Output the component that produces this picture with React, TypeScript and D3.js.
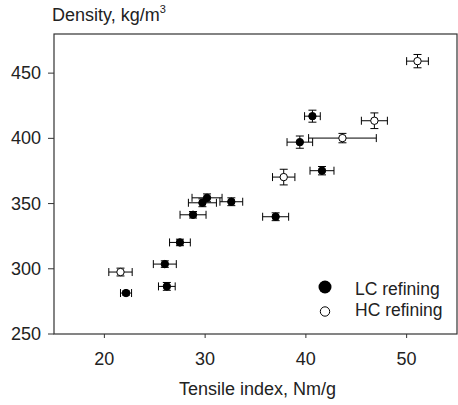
import React from "react";
import * as d3 from "d3";

const lcTensile = [40.65, 39.4, 41.6, 30.19, 29.73, 32.6, 28.8, 37.0, 27.5, 26.0, 26.2, 22.15];
const lcTensileErr = [0.78, 1.27, 1.19, 1.49, 1.39, 1.13, 1.29, 1.29, 1.03, 1.14, 0.83, 0.55];
const lcDensity = [417, 397.1, 375.2, 354.4, 350.6, 351.4, 341.4, 339.9, 320.2, 303.6, 286.5, 281.4];
const lcDensityErr = [4.6, 4.7, 3.2, 3, 3, 3, 2.5, 3, 2.5, 2.5, 3, 1.5];

const hcTensile = [51.08, 46.8, 43.63, 37.8, 21.6];
const hcTensileErr = [1.08, 1.29, 3.36, 1.11, 1.16];
const hcDensity = [459.2, 413.5, 400.2, 370.3, 297.5];
const hcDensityErr = [5.1, 6, 3.6, 6, 3];

const xTicks = [20, 30, 40, 50];
const yTicks = [250, 300, 350, 400, 450];

const W = 458, H = 405;
const L = 54, R = 457, T = 34, B = 334;
const FONT = "Liberation Sans, Arial, sans-serif";

export default function App() {
  const x = d3.scaleLinear().domain([15, 55]).range([L, R]);
  const y = d3.scaleLinear().domain([250, 480]).range([B, T]);

  const cap = 4;
  const renderPoint = (tx: number, te: number, dy: number, de: number, filled: boolean, key: string) => {
    const cx = x(tx), cy = y(dy);
    const x0 = x(tx - te), x1 = x(tx + te);
    const y0 = y(dy - de), y1 = y(dy + de);
    return (
      <g key={key} stroke="#000" strokeWidth={1}>
        <line x1={x0} x2={x1} y1={cy} y2={cy} />
        <line x1={x0} x2={x0} y1={cy - cap} y2={cy + cap} />
        <line x1={x1} x2={x1} y1={cy - cap} y2={cy + cap} />
        <line x1={cx} x2={cx} y1={y0} y2={y1} />
        <line x1={cx - cap} x2={cx + cap} y1={y0} y2={y0} />
        <line x1={cx - cap} x2={cx + cap} y1={y1} y2={y1} />
        <circle cx={cx} cy={cy} r={3.7} fill={filled ? "#000" : "#fff"} />
      </g>
    );
  };

  return (
    <svg width={W} height={H} style={{ position: "absolute", left: 0, top: 0 }} fontFamily={FONT}>
      <rect x={0} y={0} width={W} height={H} fill="#fff" />
      <rect x={L} y={T} width={R - L} height={B - T} fill="none" stroke="#333" strokeWidth={1.2} />
      {xTicks.map((t) => (
        <g key={"x" + t}>
          <line x1={x(t)} x2={x(t)} y1={B} y2={B + 4} stroke="#333" />
          <text x={x(t)} y={365} textAnchor="middle" fontSize={18} fill="#222">{t}</text>
        </g>
      ))}
      {yTicks.map((t) => (
        <g key={"y" + t}>
          <line x1={L - 6} x2={L} y1={y(t)} y2={y(t)} stroke="#333" />
          <text x={41} y={y(t) + 6} textAnchor="end" fontSize={18} fill="#222">{t}</text>
        </g>
      ))}
      <text x={(L + R) / 2 + 2} y={395} textAnchor="middle" fontSize={18} fill="#222">Tensile index, Nm/g</text>
      <text x={52} y={21} fontSize={18} fill="#222">
        Density, kg/m<tspan dy={-8} fontSize={11}>3</tspan>
      </text>
      {lcTensile.map((t, i) => renderPoint(t, lcTensileErr[i], lcDensity[i], lcDensityErr[i], true, "lc" + i))}
      {hcTensile.map((t, i) => renderPoint(t, hcTensileErr[i], hcDensity[i], hcDensityErr[i], false, "hc" + i))}
      <circle cx={325} cy={287} r={6.5} fill="#000" />
      <text x={355} y={295} fontSize={17.5} fill="#222">LC refining</text>
      <circle cx={325} cy={311.5} r={4.7} fill="#fff" stroke="#000" strokeWidth={1} />
      <text x={355} y={316} fontSize={17.5} fill="#222">HC refining</text>
    </svg>
  );
}
